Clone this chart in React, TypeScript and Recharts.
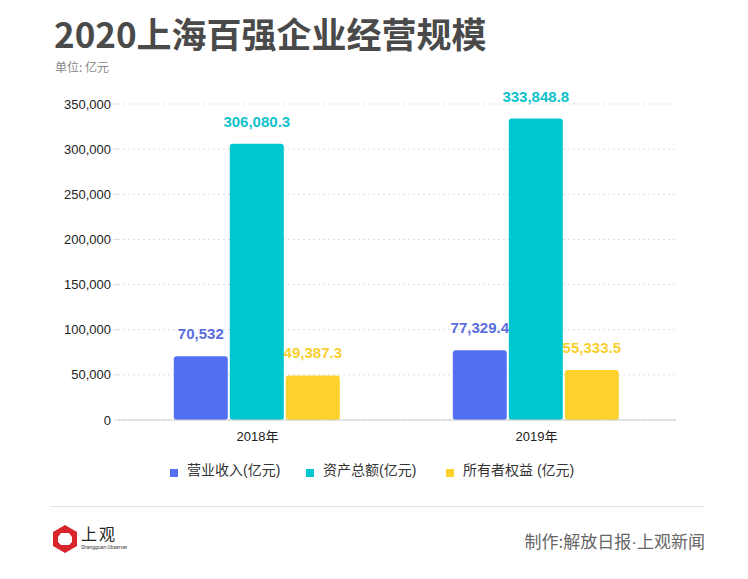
import React from 'react';
import { BarChart, Bar, XAxis, YAxis, CartesianGrid, LabelList } from 'recharts';

const years = ['2018年', '2019年'];
const revenue = [70532, 77329.4];
const assets = [306080.3, 333848.8];
const equity = [49387.3, 55333.5];
const yTicks = [0, 50000, 100000, 150000, 200000, 250000, 300000, 350000];

const series = [
  { key: 'revenue', name: '营业收入(亿元)', color: '#5470f2', label: '#5b6ee0' },
  { key: 'assets', name: '资产总额(亿元)', color: '#00c6d0', label: '#10c2cc' },
  { key: 'equity', name: '所有者权益 (亿元)', color: '#fdd22c', label: '#f8cf2e' },
];

const chartData = years.map((y, i) => ({
  year: y,
  revenue: revenue[i],
  assets: assets[i],
  equity: equity[i],
}));

const cjk = '"Liberation Sans", "Noto Sans CJK SC", sans-serif';

const fmt = (v: number) =>
  v.toLocaleString('en-US', { maximumFractionDigits: 1 });

// legend drawn as plain html so it doesn't eat into the plot height
function LegendRow() {
  const lefts = [170, 306, 446];
  return (
    <>
      {series.map((s, i) => (
        <div key={s.key} style={{ position: 'absolute', left: lefts[i], top: 459, display: 'flex', alignItems: 'center', fontFamily: cjk, fontSize: 14, color: '#333' }}>
          <span style={{ display: 'inline-block', width: 8, height: 8, background: s.color, marginRight: 9, marginTop: 8 }} />
          <span>{s.name}</span>
        </div>
      ))}
    </>
  );
}

function Logo() {
  return (
    <div style={{ position: 'absolute', left: 52, top: 524, display: 'flex', alignItems: 'center' }}>
      <svg width={26} height={30} viewBox="0 0 26 30">
        <polygon points="13,1 25,8 25,22 13,29 1,22 1,8" fill="#d8262c" />
        <polygon points="9,9 17,9 20,13 20,18 17,21 9,21 6,18 6,13" fill="#fff" />
      </svg>
      <div style={{ marginLeft: 3, marginTop: -4 }}>
        <div style={{ fontFamily: '"Noto Sans CJK SC"', fontSize: 16, lineHeight: '18px', color: '#222', letterSpacing: 2 }}>上观</div>
        <div style={{ fontFamily: 'Roboto', fontSize: 5, lineHeight: '6px', color: '#444', marginTop: 2 }}>Shangguan Observer</div>
      </div>
    </div>
  );
}

export default function App() {
  return (
    <div style={{ position: 'relative', width: 748, height: 579, margin: -8, background: '#fff', overflow: 'hidden' }}>
      <div style={{ position: 'absolute', left: 54, top: 12, fontFamily: '"Noto Sans CJK SC"', fontWeight: 700, fontSize: 35, color: '#4a4a4a', lineHeight: 1.2 }}>
        2020上海百强企业经营规模
      </div>
      <div style={{ position: 'absolute', left: 55, top: 58, fontFamily: '"Noto Sans CJK SC"', fontSize: 12, color: '#888' }}>
        单位: 亿元
      </div>
      <BarChart
        width={748}
        height={579}
        data={chartData}
        margin={{ top: 104, right: 72, bottom: 129, left: 0 }}
        barCategoryGap="20%"
        barGap={2}
      >
        <CartesianGrid vertical={false} stroke="#ddd" strokeDasharray="2 3" />
        <XAxis
          dataKey="year"
          height={30}
          axisLine={{ stroke: '#ccc' }}
          tickLine={false}
          tick={{ fontFamily: cjk, fontSize: 13, fill: '#222' }}
          tickMargin={6}
        />
        <YAxis
          width={118}
          domain={[0, 350000]}
          ticks={yTicks}
          axisLine={false}
          tickLine={{ stroke: '#ddd' }}
          tickSize={5}
          tickMargin={2}
          tickFormatter={(v: number) => v.toLocaleString('en-US')}
          tick={{ fontFamily: cjk, fontSize: 13, fill: '#222' }}
        />
        {series.map((s) => (
          <Bar key={s.key} dataKey={s.key} name={s.name} fill={s.color} radius={3} isAnimationActive={false}>
            <LabelList
              dataKey={s.key}
              position="top"
              offset={17}
              formatter={(v: any) => fmt(Number(v))}
              style={{ fontFamily: cjk, fontSize: 15, fontWeight: 700, fill: s.label }}
            />
          </Bar>
        ))}
      </BarChart>
      <LegendRow />
      <div style={{ position: 'absolute', left: 50, top: 506, width: 655, height: 1, background: '#e3e3e3' }} />
      <Logo />
      <div style={{ position: 'absolute', right: 43, top: 528, fontFamily: '"Noto Sans CJK SC"', fontSize: 17, color: '#666' }}>
        制作:解放日报<span style={{ fontFamily: '"Liberation Sans"' }}>·</span>上观新闻
      </div>
    </div>
  );
}
